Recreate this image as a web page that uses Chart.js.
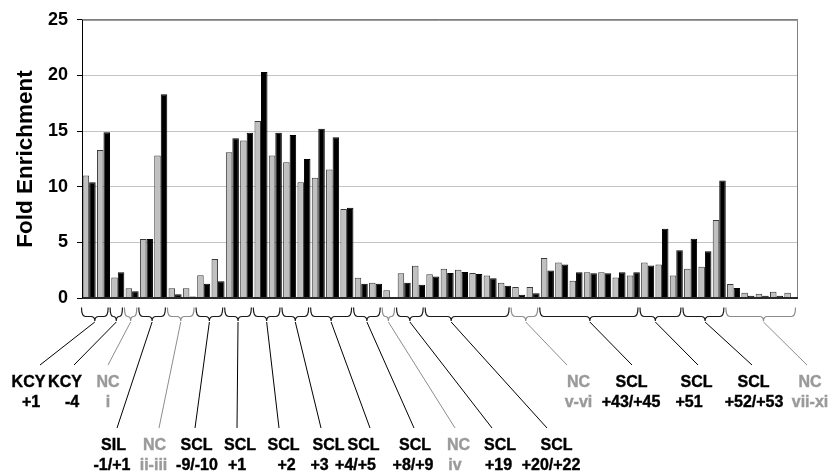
<!DOCTYPE html>
<html><head><meta charset="utf-8">
<script src="https://cdn.jsdelivr.net/npm/chart.js@4.4.0/dist/chart.umd.min.js"></script>
<style>html,body{margin:0;padding:0;background:#fff;}#wrap{width:830px;height:472px;}</style>
</head><body><div id="wrap"><canvas id="c" width="830" height="472"></canvas></div>
<script>
// ---- data ----
const categories = ['1','2','3','4','5','6','7','8','9','10','11','12','13','14','15','16','17','18','19','20','21','22','23','24','25','26','27','28','29','30','31','32','33','34','35','36','37','38','39','40','41','42','43','44','45','46','47','48','49','50'];
const seriesGrey = [11.0,13.3,1.85,0.87,5.3,12.8,0.87,0.87,2.05,3.5,13.1,14.15,15.9,12.8,12.2,10.4,10.8,11.55,8.0,1.82,1.37,0.69,2.23,2.89,2.13,2.62,2.53,2.25,2.03,1.37,0.98,0.98,3.6,3.18,1.55,2.32,2.32,1.85,2.02,3.18,3.0,2.02,2.62,2.8,7.0,1.25,0.48,0.39,0.57,0.48];
const seriesBlack = [10.4,14.9,2.32,0.6,5.3,18.3,0.33,0.13,1.28,1.5,14.35,14.85,20.3,14.85,14.65,12.5,15.2,14.45,8.1,1.28,1.28,null,1.37,1.19,1.94,2.25,2.34,2.16,1.77,1.1,0.3,0.42,2.47,3.0,2.32,2.23,2.23,2.32,2.32,2.92,6.22,4.29,5.33,4.2,10.57,0.89,0.21,0.21,0.21,null];
const yTicks = [0,5,10,15,20,25];
const groupLine1 = ['KCY','KCY','NC','SIL','NC','SCL','SCL','SCL','SCL','SCL','SCL','NC','SCL','SCL','NC','SCL','SCL','SCL','NC'];
const groupLine2 = ['+1','-4','i','-1/+1','ii-iii','-9/-10','+1','+2','+3','+4/+5','+8/+9','iv','+19','+20/+22','v-vi','+43/+45','+51','+52/+53','vii-xi'];
const groupFirst = [1,3,4,5,7,9,11,13,15,17,20,22,23,25,31,33,40,43,46];
const groupLast  = [2,3,4,6,8,10,12,14,16,19,21,22,24,30,32,39,42,45,50];
const groupIsNC  = [0,0,1,0,1,0,0,0,0,0,0,1,0,0,1,0,0,0,1];
// ---- annotation layout ----
const labelRow = [1,1,1,2,2,2,2,2,2,2,2,2,2,2,1,1,1,1,1];
const label1X = [28.5,65,108,113.5,154.5,196.5,240,283.5,328.5,363.5,415,458.5,500,556.5,578.5,631.5,696.5,753.5,810];
const label2X = [31,72,108,112,153.5,197,237,286.5,319.5,355.5,413,455,498.5,551,578.5,631,689,754,810];
const leaderEndX = [40,74,108,117,159,195,237,279,321,370,414,455,492,547,567,632,698,752,807];
const tipFrac = [0.5,0.5,0.5,0.5,0.5,0.5,0.5,0.5,0.5,0.5,0.5,0.5,0.5,0.31,0.55,0.51,0.375,0.54,0.54];

const FONT = "'Liberation Sans', Arial, Helvetica, sans-serif";
const BLACK_C = '#000000', GREY_TXT = '#9a9a9a', GREY_LINE = '#8c8c8c';

const annot = {
  id: 'annot',
  afterDraw(chart) {
    const ctx = chart.ctx, xs = chart.scales.x, a = chart.chartArea;
    ctx.save();
    ctx.strokeStyle = '#808080'; ctx.lineWidth = 1;
    ctx.beginPath();
    ctx.moveTo(a.left, a.top + 0.5); ctx.lineTo(a.right - 0.5, a.top + 0.5); ctx.lineTo(a.right - 0.5, a.bottom);
    ctx.stroke();
    ctx.strokeStyle = '#2a2a2a'; ctx.lineWidth = 2;
    ctx.beginPath(); ctx.moveTo(a.left, a.bottom); ctx.lineTo(a.right, a.bottom); ctx.stroke();
    ctx.strokeStyle = '#000'; ctx.lineWidth = 1;
    ctx.beginPath(); ctx.moveTo(a.left + 0.5, a.top); ctx.lineTo(a.left + 0.5, a.bottom); ctx.stroke();

    const cw = xs.getPixelForValue(1) - xs.getPixelForValue(0);
    const yTop = a.bottom + 9.5, yMid = a.bottom + 18.5, yTip = a.bottom + 23;
    for (let g = 0; g < groupLine1.length; g++) {
      const nc = groupIsNC[g];
      const x0 = xs.getPixelForValue(groupFirst[g] - 1) - cw / 2 - 0.5;
      const x1 = xs.getPixelForValue(groupLast[g] - 1) + cw / 2 - 2.5;
      const xt = x0 + (x1 - x0) * tipFrac[g];
      const r = Math.min(4, (x1 - x0) / 4);
      ctx.strokeStyle = nc ? GREY_LINE : '#1a1a1a';
      ctx.lineWidth = 1.2;
      ctx.beginPath();
      ctx.moveTo(x0, yTop);
      ctx.quadraticCurveTo(x0, yMid, x0 + r, yMid);
      ctx.lineTo(xt - r, yMid);
      ctx.quadraticCurveTo(xt, yMid, xt, yTip);
      ctx.quadraticCurveTo(xt, yMid, xt + r, yMid);
      ctx.lineTo(x1 - r, yMid);
      ctx.quadraticCurveTo(x1, yMid, x1, yTop);
      ctx.stroke();
      const endY = labelRow[g] === 1 ? 365 : 428;
      ctx.lineWidth = 1;
      ctx.strokeStyle = nc ? GREY_LINE : BLACK_C;
      ctx.beginPath(); ctx.moveTo(xt, yTip + 1); ctx.lineTo(leaderEndX[g], endY); ctx.stroke();
      ctx.fillStyle = nc ? GREY_TXT : BLACK_C;
      ctx.strokeStyle = ctx.fillStyle; ctx.lineWidth = 0.4;
      ctx.font = 'bold 16px ' + FONT;
      ctx.textAlign = 'center'; ctx.textBaseline = 'alphabetic';
      const b1 = labelRow[g] === 1 ? 387 : 450;
      ctx.fillText(groupLine1[g], label1X[g], b1);
      ctx.strokeText(groupLine1[g], label1X[g], b1);
      ctx.fillText(groupLine2[g], label2X[g], b1 + 20);
      ctx.strokeText(groupLine2[g], label2X[g], b1 + 20);
    }
    ctx.restore();
  }
};

new Chart(document.getElementById('c'), {
  type: 'bar',
  data: {
    labels: categories,
    datasets: [
      { data: seriesGrey, backgroundColor: '#c0c0c0', borderColor: '#3a3a3a', borderWidth: 1, borderSkipped: 'bottom' },
      { data: seriesBlack, backgroundColor: '#000000', borderColor: '#000000', borderWidth: 1, borderSkipped: 'bottom' }
    ]
  },
  options: {
    responsive: false, animation: false,
    datasets: { bar: { categoryPercentage: 0.91, barPercentage: 1.0 } },
    layout: { padding: { top: 17, right: 32, left: 0, bottom: 0 } },
    plugins: { legend: { display: false }, tooltip: { enabled: false } },
    scales: {
      x: {
        type: 'category', offset: true,
        grid: { display: false }, border: { display: false },
        ticks: { display: false },
        afterFit(s) { s.height = 174; }
      },
      y: {
        min: 0, max: 25,
        afterBuildTicks(s) { s.ticks = yTicks.map(v => ({ value: v })); },
        ticks: { color: '#000', padding: 9, font: { family: FONT, size: 18, weight: 'bold' } },
        grid: { color: c => (c.tick && c.tick.value === 25) ? '#808080' : '#c4c4c4', tickColor: '#000', tickLength: 5, lineWidth: 1 },
        border: { display: false },
        title: { display: true, text: 'Fold Enrichment', color: '#000', font: { family: FONT, size: 22.5, weight: 'bold' }, padding: { top: 12, bottom: 0 } },
        afterFit(s) { s.width = 82; }
      }
    }
  },
  plugins: [annot]
});
</script></body></html>
